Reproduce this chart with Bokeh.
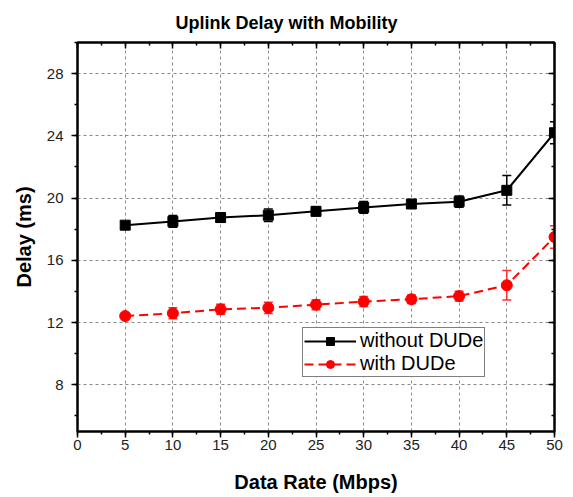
from bokeh.plotting import figure
from bokeh.models import (ColumnDataSource, Whisker, TeeHead, LinearAxis, Legend,
                          LegendItem, SingleIntervalTicker, CustomJSTickFormatter, Range1d)
from bokeh.embed import file_html
from bokeh.resources import INLINE

# ---- data ----
rates = [5, 10, 15, 20, 25, 30, 35, 40, 45, 50]
delay_without = [18.26, 18.5, 18.75, 18.9, 19.15, 19.4, 19.62, 19.77, 20.5, 24.2]
err_without = [0.15, 0.38, 0.3, 0.4, 0.28, 0.38, 0.28, 0.36, 0.95, 0.7]
delay_with = [12.42, 12.6, 12.85, 12.95, 13.15, 13.35, 13.5, 13.7, 14.4, 17.5]
err_with = [0.15, 0.36, 0.32, 0.36, 0.32, 0.32, 0.28, 0.32, 0.95, 0.72]
series_names = ["without DUDe", "with DUDe"]
title_text = "Uplink Delay with Mobility"
x_label = "Data Rate (Mbps)"
y_label = "Delay (ms)"

FONT = "Liberation Sans"

src_a = ColumnDataSource(dict(x=rates, y=delay_without,
                              lo=[v - e for v, e in zip(delay_without, err_without)],
                              hi=[v + e for v, e in zip(delay_without, err_without)]))
src_b = ColumnDataSource(dict(x=rates, y=delay_with,
                              lo=[v - e for v, e in zip(delay_with, err_with)],
                              hi=[v + e for v, e in zip(delay_with, err_with)]))

p = figure(width=565, height=495, output_backend="svg", toolbar_location=None,
           x_range=Range1d(0, 50), y_range=Range1d(5, 30),
           min_border_left=77, min_border_right=11, min_border_top=42, min_border_bottom=64,
           x_axis_location=None, y_axis_location=None)

p.title.text = title_text
p.title.text_font = FONT
p.title.text_font_size = "18px"
p.title.text_font_style = "bold"
p.title.text_color = "black"
p.title.align = "left"
p.title.offset = 98
p.title.standoff = 20

p.outline_line_color = "black"
p.outline_line_width = 2
p.background_fill_color = "white"
p.border_fill_color = "white"

xt = SingleIntervalTicker(interval=5, num_minor_ticks=2)
yt = SingleIntervalTicker(interval=4, num_minor_ticks=2)

def style_axis(ax, show_labels, inward):
    ax.axis_line_color = "black"
    ax.axis_line_width = 2
    ax.major_tick_line_color = "black"
    ax.major_tick_line_width = 1.5
    ax.minor_tick_line_color = "black"
    ax.minor_tick_line_width = 1.5
    if inward:
        ax.major_tick_in, ax.major_tick_out = 6, 0
        ax.minor_tick_in, ax.minor_tick_out = 3, 0
    else:
        ax.major_tick_in, ax.major_tick_out = 0, 6
        ax.minor_tick_in, ax.minor_tick_out = 0, 3
    ax.major_label_text_font = FONT
    ax.major_label_text_font_size = "15px" if show_labels else "0px"
    ax.major_label_text_color = "#222222"
    ax.axis_label_text_font = FONT
    ax.axis_label_text_font_size = "20px"
    ax.axis_label_text_font_style = "bold"
    ax.axis_label_text_color = "black"
    if not show_labels:
        ax.formatter = CustomJSTickFormatter(code="return ''")
        ax.major_label_standoff = 0
        ax.axis_label_standoff = 0

xb = LinearAxis(ticker=xt, axis_label=x_label)
style_axis(xb, True, False)
xb.major_label_standoff = 2
xb.axis_label_standoff = 18
p.add_layout(xb, "below")

yl = LinearAxis(ticker=yt, axis_label=y_label)
style_axis(yl, True, False)
yl.major_label_standoff = 8
yl.axis_label_standoff = 9
p.add_layout(yl, "left")

xa = LinearAxis(ticker=xt)
style_axis(xa, False, True)
p.add_layout(xa, "above")

yr = LinearAxis(ticker=yt)
style_axis(yr, False, True)
p.add_layout(yr, "right")

p.xgrid.ticker = xt
p.ygrid.ticker = yt
for g in (p.xgrid, p.ygrid):
    g.grid_line_color = "#8a8a8a"
    g.grid_line_dash = "3 3"
    g.grid_line_width = 1

# series A
la = p.line("x", "y", source=src_a, line_color="black", line_width=2)
wa = Whisker(source=src_a, base="x", upper="hi", lower="lo", line_color="black", line_width=1.5,
             upper_head=TeeHead(size=9, line_color="black", line_width=1.5),
             lower_head=TeeHead(size=9, line_color="black", line_width=1.5))
p.add_layout(wa)
sa = p.scatter("x", "y", source=src_a, marker="square", size=10, fill_color="black", line_color="black")

# series B
lb = p.line("x", "y", source=src_b, line_color="#ff0000", line_width=2, line_dash="9 5")
wb = Whisker(source=src_b, base="x", upper="hi", lower="lo", line_color="#ff3030", line_width=1.5,
             upper_head=TeeHead(size=9, line_color="#ff3030", line_width=1.5),
             lower_head=TeeHead(size=9, line_color="#ff3030", line_width=1.5))
p.add_layout(wb)
sb = p.scatter("x", "y", source=src_b, marker="circle", size=11, fill_color="#ff0000", line_color="#ff0000")

legend = Legend(items=[LegendItem(label=series_names[0], renderers=[la, sa]),
                       LegendItem(label=series_names[1], renderers=[lb, sb])],
                location=(225, 54))
legend.label_text_font = FONT
legend.label_text_font_size = "20px"
legend.label_text_color = "black"
legend.border_line_color = "black"
legend.border_line_width = 1.5
legend.background_fill_alpha = 1
legend.padding = 1
legend.margin = 0
legend.spacing = 0
legend.glyph_width = 52
legend.glyph_height = 20
legend.label_height = 20
legend.label_standoff = 4
p.add_layout(legend, "center")

open("out.html", "w").write(file_html(p, INLINE))
